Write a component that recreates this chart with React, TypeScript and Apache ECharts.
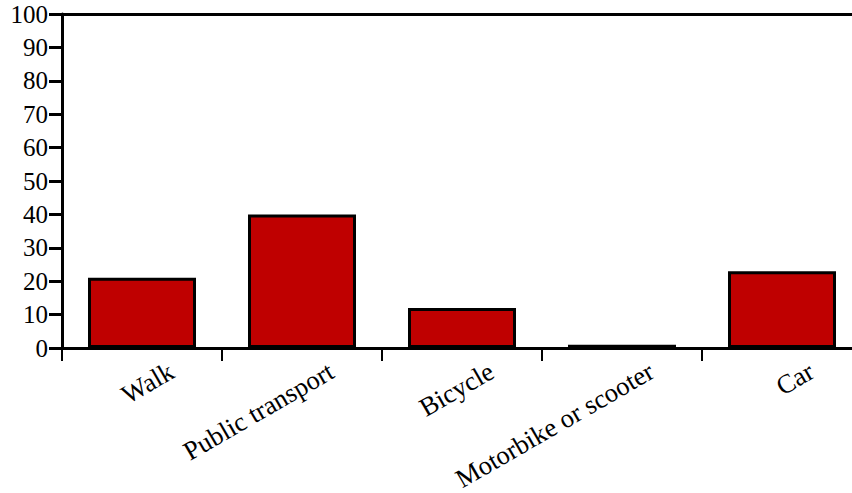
import React, { useEffect, useRef } from "react";
import * as echarts from "echarts";

const categories = ["Walk", "Public transport", "Bicycle", "Motorbike or scooter", "Car"];
const values = [21, 40, 12, 1, 23];
const yTicks = { min: 0, max: 100, interval: 10 };

const FONT = "'Liberation Serif', 'Times New Roman', serif";

export default function App() {
  const ref = useRef<HTMLDivElement>(null);
  useEffect(() => {
    if (!ref.current) return;
    const chart = echarts.init(ref.current, undefined, { renderer: "svg" });
    chart.setOption({
      animation: false,
      grid: { left: 62, top: 14, bottom: 145, width: 800, outerBoundsMode: "none", containLabel: false },
      xAxis: [
        {
          type: "category",
          data: categories,
          position: "bottom",
          axisLine: { show: true, lineStyle: { color: "#000", width: 3 } },
          axisTick: { show: true, length: 13, lineStyle: { color: "#000", width: 2 } },
          axisLabel: {
            interval: 0,
            rotate: 30,
            margin: 38,
            padding: [0, -34, 0, 0],
            fontSize: 26.5,
            fontFamily: FONT,
            color: "#000",
          },
        },
        {
          type: "category",
          data: categories,
          position: "top",
          axisLine: { show: true, lineStyle: { color: "#000", width: 3 } },
          axisTick: { show: false },
          axisLabel: { show: false },
        },
      ],
      yAxis: {
        type: "value",
        min: yTicks.min,
        max: yTicks.max,
        interval: yTicks.interval,
        axisLine: { show: true, lineStyle: { color: "#000", width: 3 } },
        axisTick: { show: true, length: 13, lineStyle: { color: "#000", width: 3 } },
        splitLine: { show: false },
        axisLabel: { margin: 14, fontSize: 25, fontFamily: FONT, color: "#000" },
      },
      series: [
        {
          type: "bar",
          data: values,
          barCategoryGap: "32.5%",
          itemStyle: { color: "#bf0000", borderColor: "#000", borderWidth: 3 },
        },
      ],
    });
    return () => chart.dispose();
  }, []);
  return <div ref={ref} style={{ width: 852, height: 493, position: "absolute", left: 0, top: 0 }} />;
}
